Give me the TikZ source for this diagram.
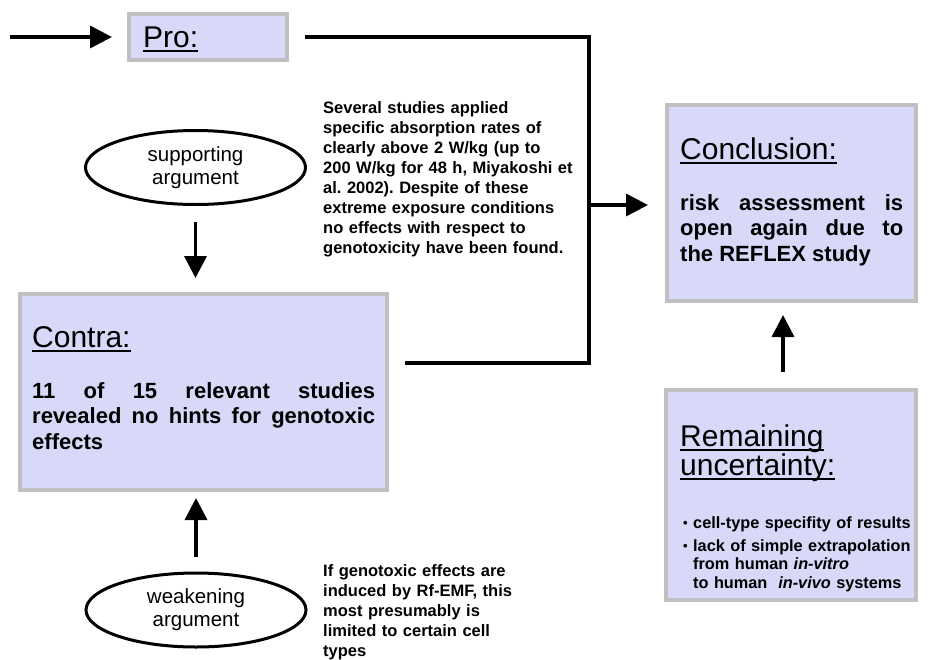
\documentclass[tikz,border=0pt]{standalone}
\usepackage{fontspec}
\setmainfont{Liberation Sans}
\usetikzlibrary{arrows.meta,shapes.geometric}
\definecolor{boxfill}{RGB}{216,216,248}
\definecolor{boxline}{RGB}{192,192,192}
\frenchspacing
\begin{document}
\begin{tikzpicture}[x=1pt,y=-1pt,
  box/.style={rectangle, draw=boxline, line width=4pt, fill=boxfill, inner sep=0pt},
  argell/.style={ellipse, draw=black, line width=3pt, fill=white, inner sep=0pt,
    minimum width=220pt, minimum height=74pt, align=center,
    font=\fontsize{20.5}{23}\selectfont},
  conn/.style={line width=3.5pt},
  arr/.style={line width=3.5pt, -{Triangle[length=22pt,width=22pt]}},
  title/.style={anchor=base west, inner sep=0pt, font=\fontsize{30}{33}\selectfont},
  uline/.style={line width=2pt},
  body/.style={anchor=base west, inner sep=0pt, align=justify,
    font=\bfseries\fontsize{22}{25.5}\selectfont},
  note/.style={anchor=base west, inner sep=0pt, align=left, text width=260pt,
    font=\bfseries\fontsize{16.5}{20}\selectfont},
  small/.style={anchor=base west, inner sep=0pt, align=left, text width=225pt,
    font=\bfseries\fontsize{16.3}{18.5}\selectfont},
  dot/.style={anchor=base west, inner sep=0pt, font=\bfseries\fontsize{13}{14}\selectfont}
]
\fill[white] (0,0) rectangle (929,659);
\useasboundingbox (0,0) rectangle (929,659);

% boxes
\node[box, minimum width=158pt, minimum height=46pt] (pro) at (208,37) {};
\node[box, minimum width=249pt, minimum height=196pt] (concl) at (791.5,203) {};
\node[box, minimum width=250pt, minimum height=210pt] (rem) at (791,495) {};
\node[box, minimum width=367pt, minimum height=196pt] (contra) at (203.5,392) {};

% ellipses
\node[argell] (sup) at (195.5,167.5) {supporting\\argument};
\node[argell] (weak) at (196,610) {weakening\\argument};

% titles
\node[title] (tpro) at (143,47) {Pro:};
\draw[uline] ([yshift=-3.5pt]tpro.base west) -- ([yshift=-3.5pt]tpro.base east);
\node[title] (tconcl) at (680,159) {Conclusion:};
\draw[uline] ([yshift=-3.5pt]tconcl.base west) -- ([yshift=-3.5pt]tconcl.base east);
\node[title] (tcontra) at (32,347) {Contra:};
\draw[uline] ([yshift=-3.5pt]tcontra.base west) -- ([yshift=-3.5pt]tcontra.base east);
\node[title] (trem1) at (680,446) {Remaining};
\draw[uline] ([yshift=-3.5pt]trem1.base west) -- ([yshift=-3.5pt]trem1.base east);
\node[title] (trem2) at (680,475) {uncertainty:};
\draw[uline] ([yshift=-3.5pt]trem2.base west) -- ([yshift=-3.5pt]trem2.base east);

% bodies
\node[body, text width=223pt] (bconcl) at (680,210)
  {risk assessment is\linebreak open again due to\linebreak the REFLEX study};
\node[body, text width=343pt] (bcontra) at (32,398)
  {11 of 15 relevant studies\linebreak revealed no hints for genotoxic\linebreak effects};

% remaining bullets
\node[dot] (d1) at (683,527) {•};
\node[small] (r1) at (693,528) {cell-type specifity of results};
\node[dot] (d2) at (683,550) {•};
\node[small] (r2) at (693,551) {lack of simple extrapolation\\from human \textit{in-vitro}\\to human \ \textit{in-vivo} systems};

% notes
\node[note] (nsup) at (323,113) {Several studies applied\\specific absorption rates of\\clearly above 2 W/kg (up to\\200 W/kg for 48 h, Miyakoshi et\\al. 2002). Despite of these\\extreme exposure conditions\\no effects with respect to\\genotoxicity have been found.};
\node[note] (nweak) at (323,576) {If genotoxic effects are\\induced by Rf-EMF, this\\most presumably is\\limited to certain cell\\types};

% connectors
\coordinate (src) at (10,37);
\coordinate (jt) at (589,37);
\coordinate (jm) at (589,205);
\coordinate (jb) at (589,363);
\coordinate (ax) at (783,0);
\draw[arr, shorten >=15pt] (src) -- (pro.west);
\draw[conn, shorten <=16pt, shorten >=16pt] (pro.east) -- (jt) -- (jb) -- (contra.east |- jb);
\draw[arr, shorten >=17pt] (jm) -- (concl.west |- jm);
\draw[arr, shorten <=16pt, shorten >=14pt] (sup.south) -- (sup.south |- contra.north);
\draw[arr, shorten <=15pt, shorten >=6pt] (weak.north) -- (weak.north |- contra.south);
\draw[arr, shorten <=16pt, shorten >=12pt] (rem.north -| ax) -- (concl.south -| ax);
\end{tikzpicture}
\end{document}
